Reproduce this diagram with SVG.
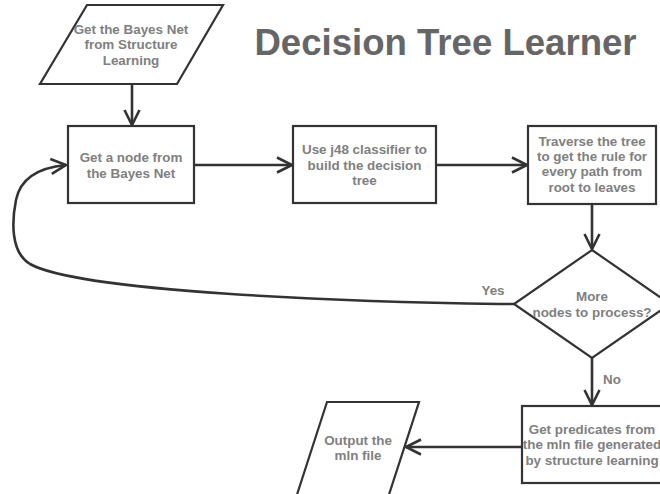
<svg xmlns="http://www.w3.org/2000/svg" width="660" height="494" viewBox="0 0 660 494">
<style>
.shape{fill:#fff;stroke:#333;stroke-width:2.2}
.edge{fill:none;stroke:#333;stroke-width:2.6}
.t{font-family:"Liberation Sans",Arial,sans-serif;font-weight:bold;font-size:13.4px;fill:#808080;text-anchor:middle}
.title{font-family:"Liberation Sans",Arial,sans-serif;font-weight:bold;font-size:36.6px;fill:#666;text-anchor:middle}
</style>
<defs>
<marker id="arr" markerUnits="userSpaceOnUse" markerWidth="20" markerHeight="20" viewBox="-16 -10 20 20" refX="0" refY="0" orient="auto">
<path d="M-15,-7.5 L0,0 L-15,7.5" fill="none" stroke="#333" stroke-width="2.6"/>
</marker>
</defs>
<rect width="660" height="494" fill="#fff"/>
<text class="title" x="445.5" y="55">Decision Tree Learner</text>
<g id="connectors">
<path class="edge" d="M132,84 L132,125" marker-end="url(#arr)"/>
<path class="edge" d="M194,165 L292,165" marker-end="url(#arr)"/>
<path class="edge" d="M436,165 L527,165" marker-end="url(#arr)"/>
<path class="edge" d="M592,204 L592,249" marker-end="url(#arr)"/>
<path class="edge" d="M514,304 L500,304 C350,302 80,292 30,264 C10,252 12,220 16,200 C20,180 35,168 66,165" marker-end="url(#arr)"/>
<path class="edge" d="M592,358 L592,405" marker-end="url(#arr)"/>
<path class="edge" d="M522,447 L406,447" marker-end="url(#arr)"/>
<text class="t" x="493" y="294.5">Yes</text>
<text class="t" x="612" y="383.5">No</text>
</g>
<g id="start">
<polygon class="shape" points="87,5 223,5 177,84 40,84"/>
<text class="t" x="131" y="33.5">Get the Bayes Net</text>
<text class="t" x="131" y="48.5">from Structure</text>
<text class="t" x="131" y="64.5">Learning</text>
</g>
<g id="getnode">
<rect class="shape" x="68" y="126" width="126" height="77"/>
<text class="t" x="131" y="161.5">Get a node from</text>
<text class="t" x="131" y="177.5">the Bayes Net</text>
</g>
<g id="j48">
<rect class="shape" x="293" y="126" width="143" height="77"/>
<text class="t" x="364.5" y="153.5">Use j48 classifier to</text>
<text class="t" x="364.5" y="169.5">build the decision</text>
<text class="t" x="364.5" y="184.5">tree</text>
</g>
<g id="traverse">
<rect class="shape" x="528" y="126" width="128" height="78"/>
<text class="t" x="592" y="145.5">Traverse the tree</text>
<text class="t" x="592" y="160.5">to get the rule for</text>
<text class="t" x="592" y="175.5">every path from</text>
<text class="t" x="592" y="191.5">root to leaves</text>
</g>
<g id="decision">
<polygon class="shape" points="592,250 670,304 592,358 514,304"/>
<text class="t" x="592" y="300.5">More</text>
<text class="t" x="592" y="316.5">nodes to process?</text>
</g>
<g id="predicates">
<rect class="shape" x="522" y="406" width="140" height="77"/>
<text class="t" x="592" y="433.5">Get predicates from</text>
<text class="t" x="592" y="448.5">the mln file generated</text>
<text class="t" x="592" y="464.5">by structure learning</text>
</g>
<g id="output">
<polygon class="shape" points="327,402 419,402 384,510 292,510"/>
<text class="t" x="358" y="444.5">Output the</text>
<text class="t" x="358" y="459.5">mln file</text>
</g>
</svg>
